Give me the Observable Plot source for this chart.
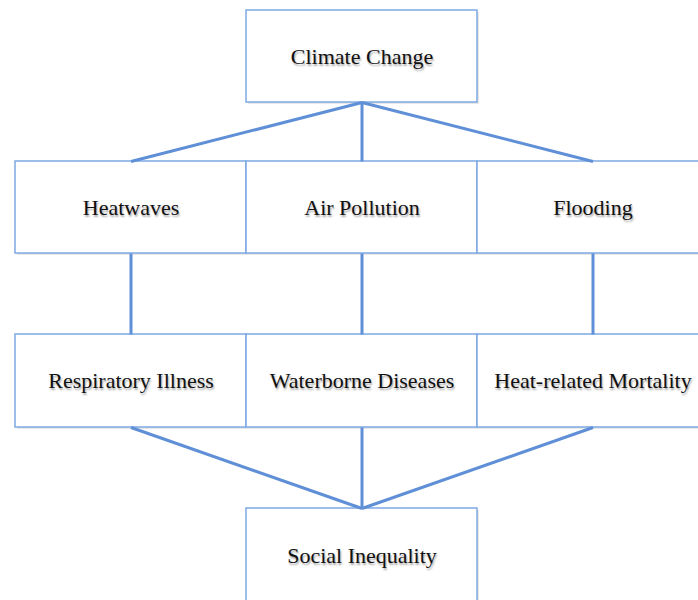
<!DOCTYPE html>
<html>
<head>
<meta charset="utf-8">
<script src="https://cdn.jsdelivr.net/npm/d3@7"></script>
<script src="https://cdn.jsdelivr.net/npm/@observablehq/plot@0.6"></script>
<style>
  html, body { margin: 0; padding: 0; background: #fff; }
  #chart svg text { text-shadow: 1px 2px 2px rgba(0,0,0,0.35); }
</style>
</head>
<body>
<div id="chart"></div>
<script>
// ---- data ----
const topLabels = ["Climate Change"];
const causeLabels = ["Heatwaves", "Air Pollution", "Flooding"];
const effectLabels = ["Respiratory Illness", "Waterborne Diseases", "Heat-related Mortality"];
const outcomeLabels = ["Social Inequality"];
// rows of the flow (level index) and the column each box sits in
const rowLevels = [0, 1, 2, 3];
const rowLabels = [topLabels, causeLabels, effectLabels, outcomeLabels];
const rowColumns = [[1], [0, 1, 2], [0, 1, 2], [1]];

// ---- layout ----
const W = 698, H = 600;
const colLeft = 15, colW = 231;
const rowTop = [10, 161, 334, 508];
const rowH = [92, 92, 93, 110];

const boxes = [];
rowLevels.forEach((r) => {
  rowLabels[r].forEach((label, i) => {
    const c = rowColumns[r][i];
    const x1 = colLeft + c * colW, x2 = x1 + colW;
    const y1 = rowTop[r], y2 = y1 + rowH[r];
    boxes.push({label, row: r, col: c, x1, x2, y1, y2,
      cx: (x1 + x2) / 2, cy: r === 3 ? y1 + 47 : (y1 + y2) / 2});
  });
});
const byRow = (r) => boxes.filter(b => b.row === r);
const edges = [];
// top fans out to causes
byRow(1).forEach(b => { const t = byRow(0)[0]; edges.push({x1: t.cx, y1: t.y2, x2: b.cx, y2: b.y1}); });
// causes to effects (straight down)
byRow(1).forEach((b, i) => { const e = byRow(2)[i]; edges.push({x1: b.cx, y1: b.y2, x2: e.cx, y2: e.y1}); });
// effects converge to outcome
byRow(2).forEach(b => { const o = byRow(3)[0]; edges.push({x1: b.cx, y1: b.y2, x2: o.cx, y2: o.y1}); });

const chart = Plot.plot({
  width: W, height: H, margin: 0,
  x: {domain: [0, W], range: [0, W], axis: null},
  y: {domain: [0, H], range: [0, H], axis: null},
  marks: [
    Plot.rect(boxes, {x1: "x1", x2: "x2", y1: "y1", y2: "y2", fill: "#d8d8d8", dx: 2, dy: 2, fillOpacity: 0.6}),
    Plot.rect(boxes, {x1: "x1", x2: "x2", y1: "y1", y2: "y2", fill: "white", stroke: "#7ea9e3", strokeWidth: 1.5}),
    Plot.link(edges, {x1: "x1", y1: "y1", x2: "x2", y2: "y2", stroke: "#5f8fd6", strokeWidth: 3}),
    Plot.text(boxes, {x: "cx", y: "cy", text: "label", fontFamily: "Liberation Serif, Times New Roman, serif", fontSize: 22, fill: "#111"})
  ]
});
document.getElementById("chart").appendChild(chart);
</script>
</body>
</html>
